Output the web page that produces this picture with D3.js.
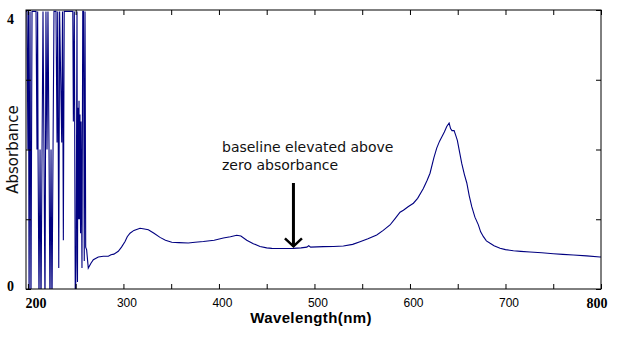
<!DOCTYPE html>
<html>
<head>
<meta charset="utf-8">
<script src="https://cdn.jsdelivr.net/npm/d3@7"></script>
<style>
  body { margin: 0; background: #fff; }
  svg { display: block; }
  .tick line { stroke: #000; }
  .domain { display: none; }
</style>
</head>
<body>
<div id="chart"></div>
<script>
// absorbance spectrum: noisy/saturated detector region below ~262 nm, then smooth trace
const noiseWavelengths = [198, 199, 200, 200.6, 201.2, 202.2, 203.2, 204.3, 208.5, 209.5, 210.2, 210.6, 211.6, 212.7,
  213.7, 214.8, 215.8, 216.8, 217.9, 218.9, 220, 221, 222.1, 223.1, 224.2, 225.2, 226.3, 227.3, 229.4, 230.5, 231.2,
  232.3, 233.2, 235.4, 236.2, 237.1, 238, 247, 247.6, 248.6, 249.6, 250.5, 251.4, 251.9, 252.4, 253, 253.5, 254,
  254.5, 255.1, 255.6, 256.6, 257.4, 258.2, 259, 259.8, 260.5, 261.5];
const noiseAbsorbance = [3.98, 3.98, 2.0, 3.98, -0.3, 3.98, -0.3, 3.98, 3.98, 2.0, 3.98, 2.0, -0.2, 2.0,
  -0.3, 2.0, 3.98, 2.0, -0.3, 3.98, 2.0, 3.98, 2.0, -0.3, 2.0, -0.3, 2.0, 3.98, 3.98, 2.1, 3.98,
  0.3, 3.98, 2.1, 3.98, 0.7, 3.98, 3.98, 2.4, 3.98, -0.3, 0.4, 3.98, 0.1, 2.6, 1.0, 2.7, 1.0,
  2.5, 0.8, 2.4, 0.3, 3.98, 3.98, 0.4, 3.98, 0.6, 0.56];

const wavelengths = [263.2, 266, 268.5, 273.7, 279, 284.2, 287, 290, 294.6, 298, 301.7, 304, 306.9, 311, 317.4, 322,
  326.1, 332, 338.3, 344, 350.6, 358, 367.9, 375, 383.7, 395, 404.6, 412, 418.6, 423, 429.1, 436, 443, 450, 455.3,
  466, 477.9, 486, 492, 494, 496, 509.3, 520, 530.3, 540, 547.7, 556, 565.2, 572, 579.1, 584.4, 589.6, 593.1, 598,
  603.6, 608, 614, 618, 621, 625, 628, 631, 633.3, 636, 638.5, 641, 642.5, 644, 646.2, 648, 649.6, 652, 654.2, 657,
  659.5, 662, 664.7, 668, 671.6, 674, 676.9, 680, 683.9, 688, 694.3, 700, 708.3, 716, 725.7, 738, 750.2, 760, 771.1,
  785, 799, 800];
const absorbance = [0.30, 0.37, 0.42, 0.46, 0.47, 0.47, 0.49, 0.50, 0.54, 0.60, 0.68, 0.75, 0.80, 0.84, 0.87, 0.86,
  0.85, 0.80, 0.74, 0.70, 0.67, 0.665, 0.66, 0.67, 0.68, 0.70, 0.73, 0.75, 0.77, 0.76, 0.70, 0.65, 0.61, 0.59, 0.583,
  0.58, 0.583, 0.59, 0.60, 0.62, 0.60, 0.607, 0.61, 0.616, 0.64, 0.678, 0.72, 0.774, 0.84, 0.918, 1.01, 1.10, 1.13, 1.18,
  1.23, 1.30, 1.44, 1.56, 1.66, 1.88, 2.02, 2.12, 2.18, 2.25, 2.33, 2.38, 2.30, 2.27, 2.27, 2.20, 2.13, 1.96, 1.80, 1.64,
  1.52, 1.34, 1.18, 1.03, 0.92, 0.82, 0.75, 0.69, 0.655, 0.62, 0.583, 0.565, 0.549, 0.54, 0.53, 0.52, 0.506, 0.497, 0.487,
  0.475, 0.459, 0.458];

const xTicks = [200, 250, 300, 350, 400, 450, 500, 550, 600, 650, 700, 750, 800];
const xLabels = [200, 300, 400, 500, 600, 700, 800];
const yTicks = [0, 1, 2, 3, 4];
const yLabels = [0, 4];

const xDomain = [198, 800];
const yDomain = [0, 4];
const arrowAt = 478;
const noteLines = ['baseline elevated above', 'zero absorbance'];

const margin = {top: 10, right: 18, bottom: 49, left: 26};
const width = 619 - margin.left - margin.right;
const height = 338 - margin.top - margin.bottom;

const svg = d3.select('#chart').append('svg')
  .attr('width', 619)
  .attr('height', 338);

const g = svg.append('g')
  .attr('transform', `translate(${margin.left},${margin.top})`);

const x = d3.scaleLinear().domain(xDomain).range([0, width]);
const y = d3.scaleLinear().domain(yDomain).range([height, 0]);

g.append('clipPath').attr('id', 'plot-clip')
  .append('rect')
  .attr('width', width)
  .attr('height', height);

// combine the two segments into one trace
const points = noiseWavelengths.map((w, i) => [w, noiseAbsorbance[i]])
  .concat(wavelengths.map((w, i) => [w, absorbance[i]]));

const line = d3.line()
  .x(d => x(d[0]))
  .y(d => y(d[1]));

g.append('path')
  .datum(points)
  .attr('clip-path', 'url(#plot-clip)')
  .attr('fill', 'none')
  .attr('stroke', '#000080')
  .attr('stroke-width', 1.1)
  .attr('d', line);

// ticks point inward on all four sides
const tickLen = 5;
const smallFont = '"Liberation Sans Narrow", "Arial Narrow", "Liberation Sans", sans-serif';
const edgeFont = '"Liberation Serif", "Times New Roman", serif';

const xAxis = g.append('g')
  .attr('transform', `translate(0,${height})`)
  .call(d3.axisBottom(x).tickValues(xTicks).tickSize(-tickLen).tickPadding(9)
    .tickFormat(d => xLabels.includes(d) ? d : ''));

xAxis.selectAll('text')
  .attr('dx', 3)
  .style('font-family', smallFont)
  .style('font-size', '12px')
  .style('fill', '#000');

// first and last labels sit inside the axis ends, drawn bold
xAxis.selectAll('.tick')
  .filter(d => d === xDomain[1] || d === 200)
  .select('text')
  .style('font-family', edgeFont)
  .style('font-weight', 'bold')
  .style('font-size', '14px')
  .attr('text-anchor', d => d === 200 ? 'start' : 'end')
  .attr('dx', d => d === 200 ? -3 : 6);

g.append('g')
  .call(d3.axisTop(x).tickValues(xTicks).tickSize(-tickLen).tickFormat(''));

const yAxis = g.append('g')
  .call(d3.axisLeft(y).tickValues(yTicks).tickSize(-tickLen).tickPadding(12)
    .tickFormat(d => yLabels.includes(d) ? d : ''));

yAxis.selectAll('text')
  .style('font-family', edgeFont)
  .style('font-weight', 'bold')
  .style('font-size', '14px')
  .style('fill', '#000')
  .attr('dy', d => d === yDomain[1] ? '0.95em' : '0.12em');

g.append('g')
  .attr('transform', `translate(${width},0)`)
  .call(d3.axisRight(y).tickValues(yTicks).tickSize(-tickLen).tickFormat(''));

g.append('rect')
  .attr('width', width)
  .attr('height', height)
  .attr('fill', 'none')
  .attr('stroke', '#000')
  .attr('stroke-width', 1);

// axis titles
svg.append('text')
  .attr('x', 311)
  .attr('y', 323)
  .attr('text-anchor', 'middle')
  .style('font-family', '"Liberation Sans", Arial, sans-serif')
  .style('font-weight', 'bold')
  .style('font-size', '15px')
  .style('letter-spacing', '0.4px')
  .text('Wavelength(nm)');

svg.append('text')
  .attr('transform', `translate(18,${margin.top + y(2)}) rotate(-90)`)
  .attr('text-anchor', 'middle')
  .style('font-family', '"DejaVu Sans", sans-serif')
  .style('font-size', '15px')
  .style('fill', '#111')
  .text('Absorbance');

// annotation with arrow pointing at the baseline
const note = svg.append('text')
  .style('font-family', '"DejaVu Sans", sans-serif')
  .style('font-size', '14px')
  .style('fill', '#111');

note.selectAll('tspan')
  .data(noteLines)
  .join('tspan')
  .attr('x', 222)
  .attr('y', (d, i) => 152 + i * 18)
  .text(d => d);

const ax = margin.left + x(arrowAt);
const tipY = margin.top + y(0.583) - 2;

svg.append('line')
  .attr('x1', ax).attr('x2', ax)
  .attr('y1', 183).attr('y2', tipY)
  .attr('stroke', '#000')
  .attr('stroke-width', 3);

svg.append('path')
  .attr('d', `M${ax - 8.5},${tipY - 8} L${ax},${tipY} L${ax + 8.5},${tipY - 8}`)
  .attr('fill', 'none')
  .attr('stroke', '#000')
  .attr('stroke-width', 2.5);
</script>
</body>
</html>
